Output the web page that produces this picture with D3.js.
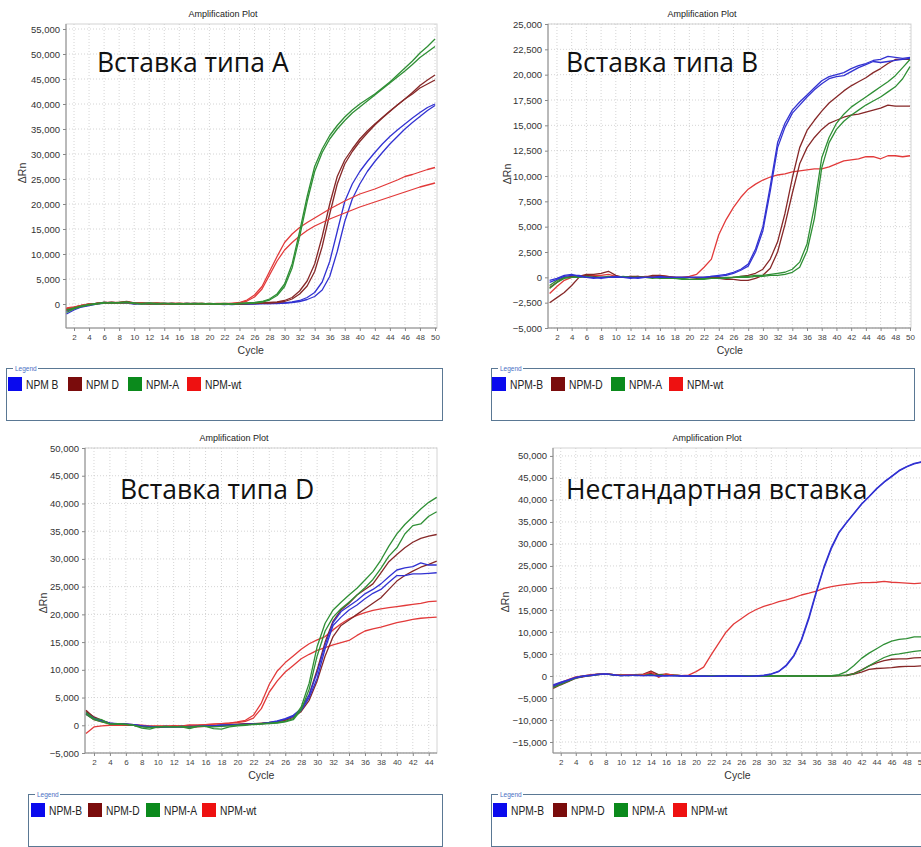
<!DOCTYPE html>
<html>
<head>
<meta charset="utf-8">
<script src="https://cdn.jsdelivr.net/npm/d3@7"></script>
<style>
  body { margin: 0; background: #fff; }
  svg { display: block; }
</style>
</head>
<body>
<svg id="chart" width="921" height="847"></svg>
<script>
// ---- cycle numbers -------------------------------------------------------
const cycles50 = d3.range(1, 51);
const cycles45 = d3.range(1, 46);

// ---- tick values ---------------------------------------------------------
const xTicks50 = d3.range(2, 51, 2);
const xTicks45 = d3.range(2, 45, 2);
const yTicksA = [0, 5000, 10000, 15000, 20000, 25000, 30000, 35000, 40000, 45000, 50000, 55000];
const yTicksB = [-5000, -2500, 0, 2500, 5000, 7500, 10000, 12500, 15000, 17500, 20000, 22500, 25000];
const yTicksD = [-5000, 0, 5000, 10000, 15000, 20000, 25000, 30000, 35000, 40000, 45000, 50000];
const yTicksN = [-15000, -10000, -5000, 0, 5000, 10000, 15000, 20000, 25000, 30000, 35000, 40000, 45000, 50000];

// ---- legend labels -------------------------------------------------------
const legendA = ["NPM B", "NPM D", "NPM-A", "NPM-wt"];
const legendOther = ["NPM-B", "NPM-D", "NPM-A", "NPM-wt"];
const panelTitles = ["Вставка типа A", "Вставка типа B", "Вставка типа D", "Нестандартная вставка"];

// ---- ΔRn per cycle: insert type A ---------------------------------------
const A_B1 = [-1500,-900,-500,-200,100,300,200,200,300,100, 100,100,0,100,0,0,100,0,0,0, 0,0,-100,0,0,0,100,100,200,200, 400,700,1300,2300,4400,8500,14500,20500,24000,26500, 28500,30300,32000,33500,34800,36000,37200,38300,39300,40000];
const A_B2 = [-2000,-1200,-600,-300,0,200,300,200,200,0, 100,0,100,0,100,0,0,100,0,0, 0,-100,0,0,0,100,100,100,100,200, 300,500,900,1500,2800,5500,10500,16500,21000,24000, 26500,28500,30300,32000,33500,35000,36300,37500,38700,39700];
const A_D1 = [-1000,-700,-300,0,100,300,200,300,500,200, 100,100,100,0,100,0,100,100,0,0, 0,0,0,100,100,200,200,300,400,700, 1300,2600,4600,8000,13500,20000,25500,28800,31000,33000, 34600,36000,37300,38600,39800,41000,42300,43700,44800,45800];
const A_D2 = [-1300,-800,-400,-100,100,200,300,200,400,100, 200,0,100,100,0,100,0,0,100,0, 0,0,0,0,100,100,200,200,300,500, 1000,2000,3600,6500,11500,18000,24000,28000,30500,32500, 34200,35800,37200,38500,39800,41000,42000,43200,44000,44800];
const A_A1 = [-1200,-800,-400,-100,100,300,200,300,400,100, 100,200,100,100,0,100,0,100,100,0, 0,100,0,100,200,300,500,1000,2000,4000, 8000,14500,21500,27500,31000,33700,35700,37400,38800,40000, 41000,42000,43200,44400,45800,47200,48600,50200,51500,53000];
const A_A2 = [-1700,-1000,-500,-200,0,200,300,200,300,200, 0,100,0,100,100,0,100,0,0,100, 0,0,0,100,100,200,400,800,1700,3500, 7200,13500,20500,26500,30300,33000,35000,36700,38200,39400, 40600,41800,43000,44200,45400,46600,47900,49300,50400,51500];
const A_wt1 = [-800,-600,-300,0,100,300,300,300,400,200, 100,100,200,100,100,100,0,100,100,0, 100,100,100,300,800,1800,3500,6500,9500,12300, 14000,15300,16300,17200,18100,19000,19800,20600,21300,22000, 22500,23000,23600,24200,24800,25500,25900,26400,26900,27300];
const A_wt2 = [-1100,-700,-300,-100,100,200,300,200,300,100, 200,100,100,0,100,100,100,0,0,100, 0,0,100,200,600,1400,3000,5800,8600,10800, 12300,13600,14700,15600,16300,17000,17600,18200,18800,19400, 19900,20400,20900,21400,21900,22400,22900,23400,23800,24200];

// ---- ΔRn per cycle: insert type B ---------------------------------------
const B_B1 = [-300,-100,200,300,100,0,-100,0,0,0, 0,-100,0,0,0,0,0,0,0,0, 0,0,100,200,300,500,800,1300,2800,5000, 9000,13300,15200,16500,17300,18000,18700,19400,19800,20000, 20200,20600,20900,21100,21400,21500,21800,21700,21600,21700];
const B_B2 = [-500,-200,100,200,200,0,0,-100,0,100, 0,0,-100,0,0,100,0,0,0,0, 0,0,100,100,200,400,700,1100,2500,4600, 8500,12800,14800,16200,17000,17800,18500,19100,19600,19800, 19900,20300,20700,21000,21300,21200,21300,21400,21500,21600];
const B_D1 = [-1000,-500,0,100,100,300,300,400,600,200, 0,100,100,0,200,200,100,0,-100,0, 0,0,0,0,-100,0,100,200,400,800, 1800,3500,6300,9800,12800,14500,15500,16400,17200,17800, 18400,18900,19300,19700,20200,20600,21100,21500,21500,21500];
const B_D2 = [-2500,-2000,-1500,-800,0,200,100,0,0,100, 0,0,100,0,0,100,0,0,0,0, -100,-100,-100,-100,-200,-200,-300,-300,-100,200, 900,2500,5200,8300,11200,12800,13800,14600,15200,15500, 15800,16000,16100,16300,16500,16700,17000,16900,16900,16900];
const B_A1 = [-800,-300,0,0,100,0,0,0,100,0, 0,0,0,0,-100,0,0,-100,-200,-200, -200,-100,-100,-100,0,0,100,100,200,200, 300,400,500,800,1500,3300,7000,11800,13800,15200, 16100,16800,17300,17800,18300,18800,19300,19900,20700,21500];
const B_A2 = [-1100,-500,-100,0,0,100,0,0,0,0, 100,0,0,0,0,-100,-100,-100,-100,-200, -200,-200,-100,-100,-100,0,0,0,100,100, 200,200,300,500,1000,2600,5800,10800,13300,14600, 15400,16000,16500,17000,17400,17800,18300,18800,19600,20800];
const B_wt = [-1600,-900,-300,0,100,200,200,200,300,100, 0,100,0,100,100,200,100,0,0,100, 300,1000,1800,4200,5700,6900,7900,8700,9200,9600, 9900,10100,10200,10400,10500,10600,10700,10700,10900,11200, 11500,11600,11700,11900,11900,11700,12000,12000,11900,12000];

// ---- ΔRn per cycle: insert type D (45 cycles) ----------------------------
const D_B1 = [2200,1300,800,400,300,200,100,-100,-300,-300, -200,-300,-300,-200,-200,-200,-100,0,0,100, 200,200,300,500,800,1200,1800,3000,5500,9500, 14500,18500,20500,21500,22500,23700,24500,25500,26800,28000, 28400,28600,29300,28900,28900];
const D_B2 = [2000,1100,700,400,200,200,100,-100,-200,-300, -300,-300,-200,-300,-200,-100,-100,0,0,100, 100,200,300,400,700,1100,1600,2700,5000,8500, 13800,18000,19500,20800,21700,22800,23800,24500,25800,27000, 27000,27300,27300,27400,27500];
const D_D1 = [2500,1500,900,400,200,200,0,-200,-300,-300, -300,-300,-300,-300,-200,-200,-100,0,100,200, 300,300,400,500,700,1000,1600,2800,5500,10000, 15000,18800,20800,22000,23500,24500,25500,27500,29500,30800, 32000,33000,33700,34100,34400];
const D_D2 = [2700,1400,800,300,200,100,0,-200,-300,-400, -300,-200,-300,-300,-300,-200,-100,-100,0,100, 200,300,300,400,600,900,1400,2500,4500,8000, 12500,16000,18000,19000,20000,21000,22000,23000,24500,26000, 27000,27800,28500,29000,29600];
const D_A1 = [2300,1200,1000,200,300,200,0,-500,-700,-300, -200,-300,-300,-600,-200,-200,-600,-700,-300,-100, 0,200,300,400,500,700,1200,3300,7600,14200, 18400,20800,22200,23500,24700,26200,27700,29800,32300,34500, 36200,37600,39000,40200,41100];
const D_A2 = [2000,1000,600,200,200,100,0,-300,-400,-300, -300,-300,-200,-300,-200,-200,-300,-200,-100,0, 100,100,200,300,400,600,1000,2800,6500,12500, 17000,19500,21000,22200,23500,24800,26300,28300,30500,32000, 34500,36000,36300,37700,38500];
const D_wt1 = [2000,1000,600,300,200,200,100,0,-100,-100, -100,-100,-100,0,0,100,200,300,400,600, 900,1800,4000,7400,9800,11300,12500,13700,14700,15400, 16000,17200,18300,19200,19800,20300,20700,21000,21200,21400, 21600,21800,22000,22300,22400];
const D_wt2 = [-1500,-300,-100,0,0,0,0,-100,-200,-200, -200,-100,-100,0,0,100,200,300,400,500, 700,1300,3000,6000,8000,9600,10800,12000,12800,13500, 14000,14500,14900,15300,16200,17000,17400,17700,18100,18500, 18800,19100,19300,19400,19500];

// ---- ΔRn per cycle: non-standard insert ---------------------------------
const N_B1 = [-2000,-1400,-900,-300,0,200,400,500,200,100, 200,100,100,200,0,100,100,0,0,0, -100,-100,0,0,0,-100,-100,0,100,400, 1000,2300,4500,8000,13000,19000,24500,29000,32500,34800, 36900,39000,40700,42500,44000,45300,46600,47500,48200,48600];
const N_B2 = [-2300,-1600,-1000,-400,-100,100,300,500,300,100, 100,200,100,100,100,0,100,0,0,-100, 0,-100,-100,0,0,0,-100,0,200,500, 1100,2500,4700,8300,13400,19300,24800,29300,32700,34900, 37000,39100,40800,42600,44100,45400,46700,47600,48300,48700];
const N_D1 = [-2800,-2000,-1300,-500,-200,200,400,500,300,200, 300,300,400,1100,300,400,200,100,100,100, 0,0,0,-100,0,0,0,0,0,0, 0,0,0,0,0,0,0,100,100,200, 600,1400,2300,3000,3500,3800,3900,3900,4100,4200];
const N_D2 = [-2500,-1800,-1100,-400,-100,100,300,500,300,200, 200,300,300,600,200,300,200,100,100,0, 0,0,0,0,-100,0,0,0,0,0, 0,0,0,0,0,0,0,0,100,100, 400,900,1500,1700,1800,1900,2100,2200,2200,2300];
const N_A1 = [-2300,-1600,-1000,-300,0,200,400,500,300,100, 200,200,300,300,200,300,200,100,100,0, 0,0,0,0,0,0,0,0,0,0, 0,0,0,0,0,0,0,100,300,1000, 2400,4000,5200,6200,7200,7900,8300,8500,8900,8900];
const N_A2 = [-2600,-1900,-1200,-500,-100,100,300,500,200,200, 100,200,200,300,100,200,100,100,0,0, 0,0,0,0,0,0,0,0,0,0, 0,0,0,0,0,0,0,0,100,200, 500,1300,2300,3300,4200,4800,5000,5300,5600,5800];
const N_wt = [-2200,-1500,-800,-200,0,300,400,500,300,200, 300,200,300,900,-300,500,200,100,200,1000, 2000,4800,7400,10000,11800,13000,14200,15100,15800,16300, 16900,17300,17800,18400,18800,19300,19900,20300,20600,20800, 21000,21200,21200,21300,21500,21300,21200,21100,21000,21100];

// ---- colours ---------------------------------------------------------------
const swatchColors = { B: "#0a0aee", D: "#7a0c0c", A: "#0b8a1c", wt: "#ee1111" };
const lineColors   = { B: "#3232d2", D: "#862828", A: "#2f8f35", wt: "#e23a3a" };
const legendKeys = ["B", "D", "A", "wt"];

// ---- panel layout ------------------------------------------------------------
const panels = [
  {
    heading: panelTitles[0], legend: legendA, cycles: cycles50, xTicks: xTicks50, yTicks: yTicksA,
    frame: { l: 66, r: 437, t: 24, b: 328 }, xRange: [66.5, 435], yDomain: [-4800, 56000],
    series: [["B", A_B1], ["B", A_B2], ["D", A_D1], ["D", A_D2], ["wt", A_wt1], ["wt", A_wt2], ["A", A_A1], ["A", A_A2]],
    headingPos: [97, 72], titleX: 223, titleY: 17, cycleY: 354, yLabelX: 22, yLabelY: 173,
    legendBox: { l: 6, r: 442, t: 368, b: 420 }, legendX: [8, 68, 128, 187]
  },
  {
    heading: panelTitles[1], legend: legendOther, cycles: cycles50, xTicks: xTicks50, yTicks: yTicksB,
    frame: { l: 548, r: 911, t: 24, b: 328 }, xRange: [549.6, 910], yDomain: [-5000, 25000],
    series: [["wt", B_wt], ["D", B_D1], ["D", B_D2], ["A", B_A1], ["A", B_A2], ["B", B_B1], ["B", B_B2]],
    headingPos: [566, 72], titleX: 702, titleY: 17, cycleY: 354, yLabelX: 507, yLabelY: 174,
    legendBox: { l: 491, r: 914, t: 368, b: 420 }, legendX: [492, 551, 611, 669]
  },
  {
    heading: panelTitles[2], legend: legendOther, cycles: cycles45, xTicks: xTicks45, yTicks: yTicksD,
    frame: { l: 85, r: 437, t: 448, b: 753 }, xRange: [86, 436.7], yDomain: [-5000, 50000],
    series: [["wt", D_wt1], ["wt", D_wt2], ["D", D_D1], ["D", D_D2], ["B", D_B1], ["B", D_B2], ["A", D_A1], ["A", D_A2]],
    headingPos: [120, 499], titleX: 234, titleY: 441, cycleY: 779, yLabelX: 43, yLabelY: 603,
    legendBox: { l: 28, r: 442, t: 794, b: 846 }, legendX: [31, 88, 146, 202]
  },
  {
    heading: panelTitles[3], legend: legendOther, cycles: cycles50, xTicks: xTicks50, yTicks: yTicksN,
    frame: { l: 553, r: 924, t: 448, b: 753 }, xRange: [553.2, 921.7], yDomain: [-17500, 51800],
    series: [["D", N_D1], ["D", N_D2], ["A", N_A1], ["A", N_A2], ["wt", N_wt], ["B", N_B1], ["B", N_B2]],
    headingPos: [566, 499], titleX: 707, titleY: 441, cycleY: 779, yLabelX: 505, yLabelY: 602,
    legendBox: { l: 491, r: 930, t: 794, b: 846 }, legendX: [493, 553, 614, 673]
  }
];

const svg = d3.select("#chart");
const defs = svg.append("defs");
const fmt = d3.format(",");

panels.forEach((p, pi) => {
  const f = p.frame;
  const g = svg.append("g");
  const x = d3.scaleLinear().domain([p.cycles[0], p.cycles[p.cycles.length - 1]]).range(p.xRange);
  const y = d3.scaleLinear().domain(p.yDomain).range([f.b, f.t]);

  // plot area background and outer border
  g.append("rect")
    .attr("x", f.l).attr("y", f.t).attr("width", f.r - f.l).attr("height", f.b - f.t)
    .attr("fill", "#fff").attr("stroke", "#d4d4d4").attr("stroke-width", 1);

  // dotted grid
  g.selectAll("line.vgrid").data(p.xTicks).join("line")
    .attr("class", "vgrid")
    .attr("x1", d => x(d)).attr("x2", d => x(d))
    .attr("y1", f.t).attr("y2", f.b)
    .attr("stroke", "#c9c9c9").attr("stroke-width", 0.8).attr("stroke-dasharray", "1,2");
  g.selectAll("line.hgrid").data(p.yTicks).join("line")
    .attr("class", "hgrid")
    .attr("x1", f.l).attr("x2", f.r)
    .attr("y1", d => y(d)).attr("y2", d => y(d))
    .attr("stroke", "#c9c9c9").attr("stroke-width", 0.8).attr("stroke-dasharray", "1,2");

  // axes
  const yAxis = d3.axisLeft(y).tickValues(p.yTicks).tickFormat(fmt).tickSize(3).tickPadding(3);
  const yG = g.append("g").attr("transform", `translate(${f.l},0)`).call(yAxis);
  yG.select(".domain").remove();
  yG.selectAll(".tick line").attr("stroke", "#888");
  yG.selectAll(".tick text")
    .attr("font-family", "'Liberation Sans', Arial, sans-serif")
    .attr("font-size", 9.5).attr("fill", "#333");

  const xAxis = d3.axisBottom(x).tickValues(p.xTicks).tickFormat(d3.format("d")).tickSize(3).tickPadding(3);
  const xG = g.append("g").attr("transform", `translate(0,${f.b})`).call(xAxis);
  xG.select(".domain").remove();
  xG.selectAll(".tick line").attr("stroke", "#888");
  xG.selectAll(".tick text")
    .attr("font-family", "'Liberation Sans', Arial, sans-serif")
    .attr("font-size", 8).attr("fill", "#444");

  // axis lines (left and bottom)
  g.append("line").attr("x1", f.l).attr("x2", f.l).attr("y1", f.t).attr("y2", f.b)
    .attr("stroke", "#8a8a8a").attr("stroke-width", 1);
  g.append("line").attr("x1", f.l).attr("x2", f.r).attr("y1", f.b).attr("y2", f.b)
    .attr("stroke", "#8a8a8a").attr("stroke-width", 1);

  // amplification curves
  const clipId = "clip" + pi;
  defs.append("clipPath").attr("id", clipId)
    .append("rect").attr("x", f.l).attr("y", f.t).attr("width", f.r - f.l).attr("height", f.b - f.t);
  const line = d3.line()
    .x((d, i) => x(p.cycles[i]))
    .y(d => y(d));
  g.append("g").attr("clip-path", `url(#${clipId})`)
    .selectAll("path").data(p.series).join("path")
    .attr("d", d => line(d[1]))
    .attr("fill", "none")
    .attr("stroke", d => lineColors[d[0]])
    .attr("stroke-width", 1.3)
    .attr("stroke-linejoin", "round");

  // titles
  g.append("text")
    .attr("x", p.titleX).attr("y", p.titleY)
    .attr("text-anchor", "middle")
    .attr("font-family", "'Liberation Sans', Arial, sans-serif")
    .attr("font-size", 9).attr("fill", "#222")
    .text("Amplification Plot");
  g.append("text")
    .attr("x", (p.xRange[0] + p.xRange[1]) / 2).attr("y", p.cycleY)
    .attr("text-anchor", "middle")
    .attr("font-family", "'Liberation Sans', Arial, sans-serif")
    .attr("font-size", 10.5).attr("fill", "#333")
    .text("Cycle");
  g.append("text")
    .attr("transform", `translate(${p.yLabelX + 4},${p.yLabelY}) rotate(-90)`)
    .attr("text-anchor", "middle")
    .attr("font-family", "'Liberation Sans', Arial, sans-serif")
    .attr("font-size", 10.5).attr("fill", "#333")
    .text("ΔRn");

  // overlay heading
  g.append("text")
    .attr("x", p.headingPos[0]).attr("y", p.headingPos[1])
    .attr("font-family", "'Open Sans', 'Noto Sans', sans-serif")
    .attr("font-size", 26.5).attr("fill", "#111")
    .text(p.heading);

  // legend box
  const lb = p.legendBox;
  g.append("rect")
    .attr("x", lb.l + 0.5).attr("y", lb.t + 0.5).attr("width", lb.r - lb.l).attr("height", lb.b - lb.t)
    .attr("fill", "#fff").attr("stroke", "#5a7894").attr("stroke-width", 1);
  g.append("rect")
    .attr("x", lb.l + 7).attr("y", lb.t - 2).attr("width", 25).attr("height", 5)
    .attr("fill", "#fff");
  g.append("text")
    .attr("x", lb.l + 9).attr("y", lb.t + 2.5)
    .attr("font-family", "'Liberation Sans', Arial, sans-serif")
    .attr("font-size", 6.5).attr("fill", "#4a6fc4")
    .text("Legend");

  const items = g.selectAll("g.item").data(legendKeys).join("g")
    .attr("class", "item")
    .attr("transform", (d, i) => `translate(${p.legendX[i]},${lb.t + 9})`);
  items.append("rect")
    .attr("width", 14).attr("height", 14)
    .attr("fill", d => swatchColors[d]);
  items.append("text")
    .attr("transform", "translate(18,12) scale(0.76,1)")
    .attr("font-family", "'Liberation Sans', Arial, sans-serif")
    .attr("font-size", 13.5).attr("fill", "#222")
    .text((d, i) => p.legend[i]);
});
</script>
</body>
</html>
